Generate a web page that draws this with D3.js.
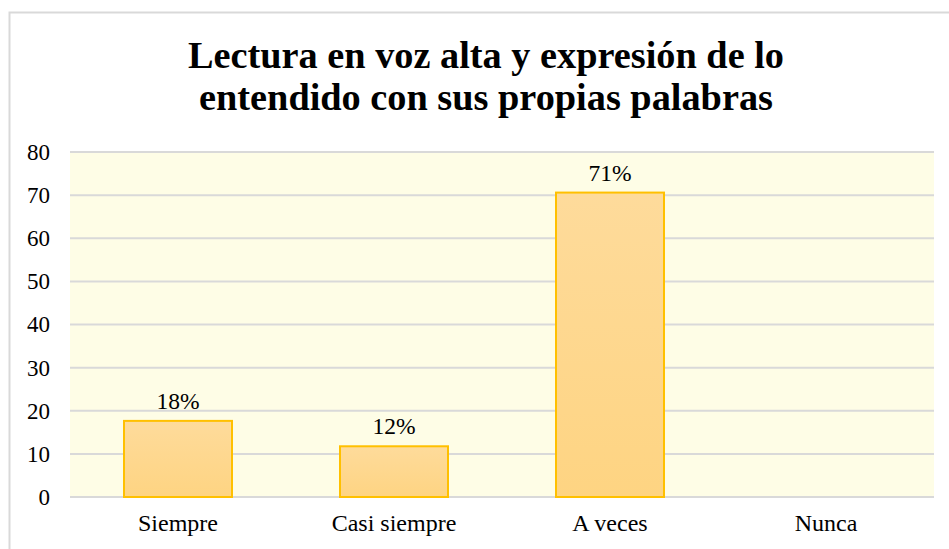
<!DOCTYPE html>
<html>
<head>
<meta charset="utf-8">
<script src="https://cdn.jsdelivr.net/npm/d3@7"></script>
<style>
  body { margin: 0; background: #fff; }
</style>
</head>
<body>
<svg id="chart"></svg>
<script>
// data
var categories = ["Siempre", "Casi siempre", "A veces", "Nunca"];
var values = [17.65, 11.76, 70.59, 0];
var labels = ["18%", "12%", "71%", ""];
var yTicks = [0, 10, 20, 30, 40, 50, 60, 70, 80];
var titleLines = ["Lectura en voz alta y expresión de lo", "entendido con sus propias palabras"];

var FONT = "Liberation Serif";

var W = 949, H = 549;
var margin = {top: 152, right: 15, bottom: 52, left: 70};
var width = W - margin.left - margin.right,
    height = H - margin.top - margin.bottom;

var svg = d3.select("#chart").attr("width", W).attr("height", H)
    .attr("font-family", FONT);

// outer chart frame
svg.append("rect")
    .attr("x", 9.5).attr("y", 12.5)
    .attr("width", W + 10).attr("height", H + 10)
    .attr("fill", "#fff")
    .attr("stroke", "#d9d9d9")
    .attr("stroke-width", 2);

var defs = svg.append("defs");
var grad = defs.append("linearGradient")
    .attr("id", "barGrad").attr("x1", 0).attr("y1", 0).attr("x2", 0).attr("y2", 1);
grad.append("stop").attr("offset", "0%").attr("stop-color", "#fedb9b");
grad.append("stop").attr("offset", "100%").attr("stop-color", "#fed482");

// title
svg.append("text")
    .attr("x", 486).attr("text-anchor", "middle")
    .attr("font-family", FONT)
    .attr("font-size", 38.3).attr("font-weight", "bold").attr("fill", "#000")
  .selectAll("tspan")
  .data(titleLines)
  .enter().append("tspan")
    .attr("x", 486)
    .attr("y", function(d, i) { return 68 + i * 42; })
    .text(function(d) { return d; });

var g = svg.append("g")
    .attr("transform", "translate(" + margin.left + "," + margin.top + ")");

// scales
var x = d3.scaleBand().domain(categories).range([0, width]).paddingInner(0.5).paddingOuter(0.25);
var y = d3.scaleLinear().domain([0, 80]).range([height, 0]);

// plot background
g.append("rect")
    .attr("x", 0).attr("y", 0)
    .attr("width", width).attr("height", height)
    .attr("fill", "#fefde6");

// gridlines
g.append("g")
  .selectAll("line")
  .data(yTicks)
  .enter().append("line")
    .attr("x1", 0).attr("x2", width)
    .attr("y1", function(d) { return y(d); })
    .attr("y2", function(d) { return y(d); })
    .attr("stroke", "#d9d9d9")
    .attr("stroke-width", 2);

// y axis
var yAxis = g.append("g")
    .call(d3.axisLeft(y).tickValues(yTicks).tickSize(0).tickPadding(20))
    .attr("font-family", FONT);
yAxis.select(".domain").remove();
yAxis.selectAll("text").attr("font-family", FONT).attr("font-size", 23).attr("fill", "#000");

// x axis
var xAxis = g.append("g")
    .attr("transform", "translate(0," + height + ")")
    .call(d3.axisBottom(x).tickSize(0).tickPadding(17))
    .attr("font-family", FONT);
xAxis.select(".domain").remove();
xAxis.selectAll("text").attr("font-family", FONT).attr("font-size", 24).attr("fill", "#000");

// bars
g.selectAll(".bar")
  .data(values)
  .enter().append("rect")
    .attr("class", "bar")
    .attr("x", function(d, i) { return x(categories[i]); })
    .attr("y", function(d) { return y(d); })
    .attr("width", x.bandwidth())
    .attr("height", function(d) { return height - y(d); })
    .attr("fill", "url(#barGrad)")
    .attr("stroke", "#ffc000")
    .attr("stroke-width", 2)
    .style("display", function(d) { return d > 0 ? null : "none"; });

// data labels
g.selectAll(".lbl")
  .data(values)
  .enter().append("text")
    .attr("class", "lbl")
    .attr("x", function(d, i) { return x(categories[i]) + x.bandwidth() / 2; })
    .attr("y", function(d) { return y(d) - 12; })
    .attr("text-anchor", "middle")
    .attr("font-family", FONT)
    .attr("font-size", 23.5)
    .attr("fill", "#000")
    .text(function(d, i) { return labels[i]; });
</script>
</body>
</html>
